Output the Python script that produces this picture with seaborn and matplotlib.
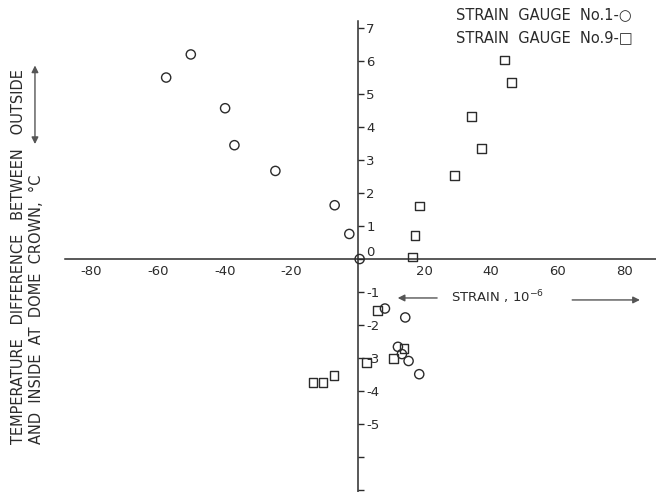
import numpy as np
import pandas as pd
import seaborn as sns
import matplotlib.pyplot as plt

# strain (10^-6) vs temperature difference (deg C)
g1_strain = [-57.6, -50.2, -39.9, -37.1, -24.8, -7.0, -2.6, 0.5,
             8.1, 14.2, 12.0, 13.2, 15.2, 18.4]
g1_temp = [5.5, 6.2, 4.57, 3.45, 2.67, 1.63, 0.76, 0.0,
           -1.5, -1.77, -2.66, -2.88, -3.09, -3.49]

g9_strain = [44.0, 46.2, 34.2, 37.0, 28.9, 18.4, 17.1, 16.3,
             5.9, 13.8, 10.6, 2.6, -7.2, -13.5, -10.5]
g9_temp = [6.03, 5.36, 4.33, 3.36, 2.52, 1.61, 0.71, 0.06,
           -1.57, -2.72, -3.01, -3.14, -3.53, -3.73, -3.73]

x_ticks = [-80, -60, -40, -20, 20, 40, 60, 80]
y_ticks = [7, 6, 5, 4, 3, 2, 1, 0, -1, -2, -3, -4, -5, -6, -7]
y_labels = ["7", "6", "5", "4", "3", "2", "1", "0",
            "-1", "-2", "-3", "-4", "-5", "", ""]

INK = "#2b2b2b"

df = pd.concat([
    pd.DataFrame({"strain": g1_strain, "temp": g1_temp, "gauge": "No.1"}),
    pd.DataFrame({"strain": g9_strain, "temp": g9_temp, "gauge": "No.9"}),
], ignore_index=True)

sns.set_style("white")
plt.rcParams["font.family"] = ["DejaVu Sans"]
plt.rcParams["axes.unicode_minus"] = False

fig = plt.figure(figsize=(6.56, 4.92), dpi=100)
ax = fig.add_axes([0, 0, 1, 1])
ax.patch.set_alpha(0)

sns.scatterplot(data=df[df.gauge == "No.1"], x="strain", y="temp",
                marker="o", s=44, facecolors="none", edgecolors=INK,
                linewidth=1.0, ax=ax, legend=False)
sns.scatterplot(data=df[df.gauge == "No.9"], x="strain", y="temp",
                marker="s", s=40, facecolors="none", edgecolors=INK,
                linewidth=1.0, ax=ax, legend=False)

# pixel mapping of the scan: x0 at 358 px, 3.33 px/unit; y0 at 259 px, 33 px/unit
ax.set_xlim(-107.5, 89.5)
ax.set_ylim(-7.06, 7.85)

for s in ["top", "left"]:
    ax.spines[s].set_visible(False)
ax.spines["bottom"].set_position(("data", 0))
ax.spines["right"].set_position(("data", 0))
ax.spines["bottom"].set_bounds(-88, 89.5)
ax.spines["right"].set_bounds(-7.06, 7.2)
for s in ["bottom", "right"]:
    ax.spines[s].set_color(INK)
    ax.spines[s].set_linewidth(1.1)

ax.set_xticks(x_ticks)
ax.set_xticklabels([str(v) for v in x_ticks])
ax.tick_params(axis="x", direction="in", length=5, width=1, color=INK,
               labelsize=9.5, labelcolor=INK, pad=4)

ax.yaxis.tick_right()
ax.set_yticks(y_ticks)
ax.set_yticklabels(y_labels)
ax.tick_params(axis="y", direction="out", length=4, width=1, color=INK,
               labelsize=9.5, labelcolor=INK, pad=2)
for lab in ax.get_yticklabels():
    if lab.get_text() == "0":
        lab.set_va("bottom")
ax.set_xlabel("")
ax.set_ylabel("")

# x axis title with arrows
ax.text(42, -1.15, "STRAIN , 10$^{-6}$", ha="center", va="center",
        fontsize=9.5, color=INK)
arrow = dict(arrowstyle="-|>", color="#555555", lw=1.0, mutation_scale=10)
ax.annotate("", xy=(11.1, -1.18), xytext=(24.6, -1.18), arrowprops=arrow)
ax.annotate("", xy=(85.5, -1.24), xytext=(63.5, -1.24), arrowprops=arrow)

# y axis title, two rotated lines and a double arrow
ax.text(-102.0, -5.6, "TEMPERATURE   DIFFERENCE   BETWEEN   OUTSIDE",
        rotation=90, ha="center", va="bottom", fontsize=10.5, color=INK)
ax.text(-96.4, -5.6, "AND  INSIDE  AT  DOME  CROWN,  °C",
        rotation=90, ha="center", va="bottom", fontsize=10.5, color=INK)
ax.annotate("", xy=(-97.0, 5.95), xytext=(-97.0, 3.4),
            arrowprops=dict(arrowstyle="<|-|>", color="#555555", lw=1.0,
                            mutation_scale=10))

# key in the top right corner
ax.text(29.5, 7.4, "STRAIN  GAUGE  No.1-○", ha="left", va="center",
        fontsize=10.5, color=INK)
ax.text(29.5, 6.72, "STRAIN  GAUGE  No.9-□", ha="left", va="center",
        fontsize=10.5, color=INK)

fig.savefig("out.png", dpi=100)
